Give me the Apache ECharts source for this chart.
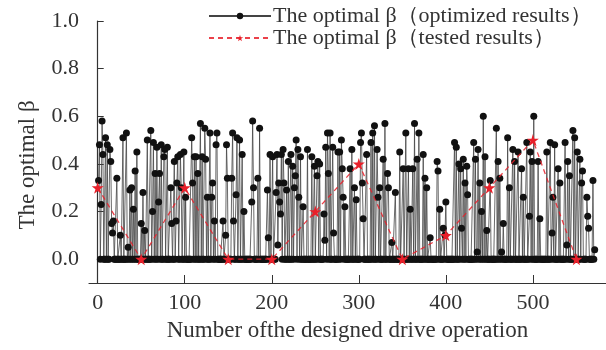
<!DOCTYPE html>
<html>
<head>
<meta charset="utf-8">
<script src="https://cdn.jsdelivr.net/npm/echarts@6/dist/echarts.min.js"></script>
<style>html,body{margin:0;padding:0;background:#fff}#c{width:606px;height:350px}</style>
</head>
<body>
<div id="c"></div>
<script>
// Optimized optimal beta, operations 1..571
const betaOptimized = [
 .33,.48,0,.23,.58,.44,0,0,.51,0,
 .48,0,0,.46,.41,.15,.11,.16,0,0,
 0,.34,0,0,0,.10,0,0,.51,0,
 0,0,.53,0,.05,0,.29,0,.30,0,
 .21,0,.37,0,.45,0,0,0,0,.15,
 0,.28,0,.12,0,0,.50,0,0,0,
 .54,0,.20,.49,0,.36,0,.47,0,.24,
 .36,0,.48,0,0,.43,.46,0,0,.47,
 0,0,0,.30,.15,0,0,.41,0,.16,
 .32,.43,0,0,.44,.30,0,0,.45,0,
 .26,0,0,0,0,0,0,.51,.32,0,
 .43,0,.43,0,.36,0,0,.57,0,.43,
 0,0,.55,.42,0,.26,0,0,.53,0,
 .26,.32,0,.16,0,.48,.53,0,0,0,
 0,0,0,.16,0,0,.10,.48,.34,0,
 0,0,0,.34,.53,.16,0,0,.27,.51,
 0,0,.50,0,0,.44,0,.20,0,0,
 0,0,0,0,0,0,.24,.58,.30,0,
 0,0,0,.34,0,.55,0,0,0,0,
 0,0,0,0,.29,.09,0,.44,0,0,
 .43,0,0,0,.28,.44,.06,.32,.24,.19,
 .44,0,.46,.32,0,0,.29,0,.41,0,
 0,.44,0,.39,0,.30,.35,.50,0,.46,
 .26,0,.43,0,0,.22,0,0,0,0,
 .46,0,0,0,0,.43,0,0,.39,0,
 0,.35,.41,0,.40,0,0,0,0,.19,
 .08,.47,0,.53,.36,0,.53,0,0,.47,
 .11,0,0,0,0,.45,0,.45,0,.50,
 .38,.26,0,.22,0,0,0,0,0,.38,
 0,.46,0,0,.30,0,.25,0,0,0,
 0,.49,.53,.32,.17,0,0,0,.44,0,
 0,0,0,.49,0,.53,0,.56,0,0,
 .46,.26,0,.30,0,0,0,.42,0,.57,
 0,0,.36,.30,0,0,0,.07,0,0,
 0,.28,0,0,0,0,.45,0,0,0,
 .38,0,0,.53,0,0,.38,0,.21,0,
 0,.38,0,.57,0,0,.42,0,.53,0,
 0,0,0,.44,0,.34,0,.30,0,0,
 0,.09,0,0,0,0,0,0,0,.41,
 .37,0,.21,0,0,0,.13,0,.10,.24,
 0,0,0,0,0,0,0,0,0,.49,
 0,.47,0,0,.40,0,.38,.13,0,.42,
 0,.32,0,.39,.27,0,0,0,0,0,
 0,.49,0,.42,0,.03,.46,0,.32,0,
 .20,0,.60,0,.43,0,.12,0,0,0,
 .33,0,0,0,0,0,0,.55,0,.41,
 0,.34,0,.03,0,.15,0,0,0,0,
 .51,0,.30,0,0,0,.46,0,.41,0,
 0,0,.45,0,0,0,.38,0,.26,0,
 0,0,.49,0,0,.18,.45,0,.41,0,
 .60,0,0,0,0,.41,0,.17,0,0,
 0,0,0,0,0,.45,0,0,0,.49,
 0,.11,.26,0,.48,0,0,0,.38,0,
 .32,0,0,0,0,0,.49,0,.06,.41,
 0,.35,0,0,0,.54,0,.51,0,0,
 .45,0,0,.42,0,.32,.37,0,0,0,
 0,.26,.18,.13,0,0,0,0,.33,0,
 .04
];
// Tested optimal beta
const testedOps = [0, 50, 100, 150, 200, 250, 300, 350, 400, 450, 500, 550];
const betaTested = [0.30, 0.00, 0.30, 0.00, 0.00, 0.20, 0.40, 0.00, 0.10, 0.30, 0.50, 0.00];
const seriesNames = ['The optimal \u03b2\uff08optimized results\uff09', 'The optimal \u03b2\uff08tested results\uff09'];
const xName = 'Number ofthe designed drive operation';
const yName = 'The optimal \u03b2';

const optData = betaOptimized.map((v, i) => [i + 1, v]);
const testData = testedOps.map((x, i) => [x, betaTested[i]]);

const FONT = '"Liberation Serif", "Times New Roman", serif';
const STAR = 'path://M50,0 L61,35 L98,35 L68,57 L79,91 L50,70 L21,91 L32,57 L2,35 L39,35 Z';
const chart = echarts.init(document.getElementById('c'), null, {renderer: 'canvas'});
chart.setOption({
  animation: false,
  backgroundColor: '#fff',
  textStyle: {fontFamily: FONT},
  grid: {left: 89, right: 0, top: 21, bottom: 67, containLabel: false},
  legend: {
    orient: 'vertical', left: 203, top: 0, itemGap: 0, itemWidth: 62, itemHeight: 8,
    textStyle: {fontFamily: FONT, fontSize: 22, color: '#333', lineHeight: 21, padding: [0,0,0,-3]},
    data: [seriesNames[0], seriesNames[1]]
  },
  xAxis: {
    type: 'value', min: -10, max: 584, splitNumber: 6,
    name: xName, nameLocation: 'middle', nameGap: 36,
    nameTextStyle: {fontFamily: FONT, fontSize: 23, color: '#333'},
    axisLine: {onZero: false, lineStyle: {color: '#333', width: 1.2}},
    axisTick: {inside: true, length: 8, lineStyle: {color: '#333'}},
    axisLabel: {fontFamily: FONT, fontSize: 22, color: '#333', margin: 9, showMinLabel: false, showMaxLabel: false},
    splitLine: {show: false}
  },
  yAxis: {
    type: 'value', min: -0.1, max: 1.0, splitNumber: 5,
    name: yName, nameLocation: 'middle', nameGap: 50,
    nameTextStyle: {fontFamily: FONT, fontSize: 23, color: '#333', padding: [0, 26, 0, 0]},
    axisLine: {show: true, lineStyle: {color: '#333', width: 1.2}},
    axisTick: {inside: true, length: 6, lineStyle: {color: '#333'}},
    axisLabel: {fontFamily: FONT, fontSize: 22, color: '#333', margin: 10, showMinLabel: false,
      formatter: v => v.toFixed(1)},
    splitLine: {show: false}
  },
  series: [
    {
      name: seriesNames[0], type: 'line', data: optData,
      showAllSymbol: true, sampling: null, symbol: 'circle', symbolSize: 7,
      lineStyle: {color: '#444', width: 0.8},
      itemStyle: {color: '#111'}, z: 2
    },
    {
      name: seriesNames[1], type: 'line', data: testData,
      symbol: STAR, symbolSize: 12,
      lineStyle: {color: 'rgba(232,32,42,0.85)', width: 1.3, type: [5, 4]},
      itemStyle: {color: '#e8202a'}, z: 3
    }
  ]
});
</script>
</body>
</html>
